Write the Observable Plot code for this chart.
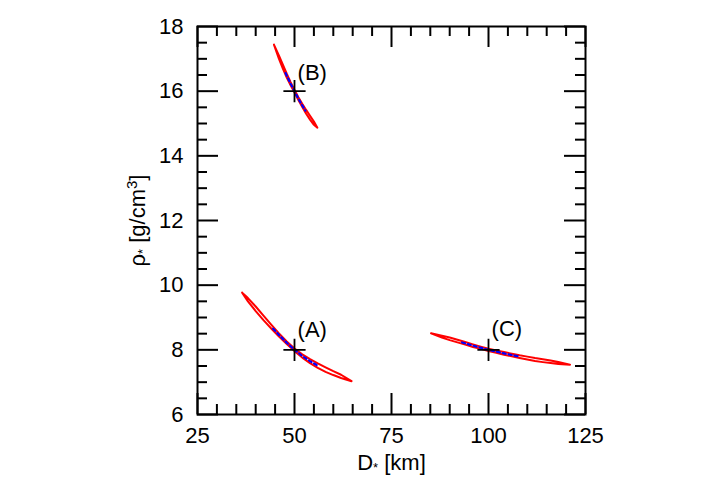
<!DOCTYPE html>
<html><head><meta charset="utf-8">
<script src="https://cdn.jsdelivr.net/npm/d3@7"></script>
<script src="https://cdn.jsdelivr.net/npm/@observablehq/plot@0.6"></script>
<style>body{margin:0;background:#fff}</style>
</head><body><div id="chart"></div>
<script>
// Tick values
const majorX = [25, 50, 75, 100, 125];
const minorX = [30, 35, 40, 45, 55, 60, 65, 70, 80, 85, 90, 95, 105, 110, 115, 120];
const majorY = [6, 8, 10, 12, 14, 16, 18];
const minorY = [6.5, 7, 7.5, 8.5, 9, 9.5, 10.5, 11, 11.5, 12.5, 13, 13.5, 14.5, 15, 15.5, 16.5, 17, 17.5];

// Case (A): red contour (upper / lower edges)
const aD  = [36.5, 38, 40, 42, 44, 46, 48, 50, 52, 54, 56, 58, 60, 62, 64.7];
const aUp = [9.77, 9.60, 9.34, 9.06, 8.78, 8.51, 8.26, 8.04, 7.86, 7.71, 7.58, 7.46, 7.34, 7.23, 7.03];
const aLo = [9.77, 9.50, 9.20, 8.92, 8.66, 8.41, 8.18, 7.96, 7.76, 7.59, 7.44, 7.32, 7.22, 7.13, 7.03];
// Case (A): blue dashed curve
const abD   = [44.5, 46, 48, 50, 52, 54, 56];
const abRho = [8.655, 8.46, 8.22, 8.0, 7.81, 7.65, 7.51];

// Case (B)
const bD  = [44.7, 46, 47, 48, 49, 50, 51, 52, 53, 54, 55, 55.9];
const bUp = [17.44, 17.10, 16.82, 16.54, 16.28, 16.04, 15.81, 15.61, 15.42, 15.24, 15.06, 14.87];
const bLo = [17.44, 17.00, 16.70, 16.42, 16.18, 15.96, 15.73, 15.51, 15.30, 15.12, 14.96, 14.87];
const bbD   = [47.7, 48, 49, 50, 51, 52, 52.8];
const bbRho = [16.56, 16.48, 16.23, 16.0, 15.77, 15.56, 15.40];

// Case (C)
const cD  = [85.2, 88, 90, 92, 94, 96, 98, 100, 102, 104, 106, 108, 110, 112, 114, 116, 118, 121];
const cUp = [8.51, 8.44, 8.38, 8.31, 8.24, 8.17, 8.10, 8.035, 7.98, 7.93, 7.88, 7.83, 7.79, 7.745, 7.71, 7.67, 7.625, 7.54];
const cLo = [8.51, 8.38, 8.30, 8.23, 8.16, 8.09, 8.03, 7.965, 7.91, 7.85, 7.80, 7.75, 7.70, 7.655, 7.62, 7.59, 7.565, 7.54];
const cbD   = [93.2, 94, 96, 98, 100, 102, 104, 106, 107.8];
const cbRho = [8.228, 8.20, 8.13, 8.065, 8.0, 7.945, 7.89, 7.84, 7.795];

// True values (crosses) and labels
const crossD   = [50, 50, 100];
const crossRho = [8, 16, 8];
const labelText = ["(A)", "(B)", "(C)"];
const labelD    = [50.8, 50.8, 100.8];
const labelRho  = [8.63, 16.55, 8.66];

function loop(id, D, up, lo) {
  const pts = D.map((d, i) => ({id, D: d, rho: up[i]}));
  for (let i = D.length - 1; i >= 0; i--) pts.push({id, D: D[i], rho: lo[i]});
  return pts;
}
function curve(id, D, r) { return D.map((d, i) => ({id, D: d, rho: r[i]})); }
const redLoops = [...loop("A", aD, aUp, aLo), ...loop("B", bD, bUp, bLo), ...loop("C", cD, cUp, cLo)];
const blueCurves = [...curve("A", abD, abRho), ...curve("B", bbD, bbRho), ...curve("C", cbD, cbRho)];
const crosses = crossD.map((d, i) => ({D: d, rho: crossRho[i]}));
const labels = labelText.map((t, i) => ({t, D: labelD[i], rho: labelRho[i]}));

const W = 708, H = 495, ML = 197, MR = 123, MT = 26, MB = 81;
const FW = W - ML - MR, FH = H - MT - MB;
const majLen = 21, minLen = 10;
const FS = 22;

const plot = Plot.plot({
  width: W, height: H,
  marginLeft: ML, marginRight: MR, marginTop: MT, marginBottom: MB,
  style: {fontFamily: "'Liberation Sans', Arial, sans-serif", fontSize: FS + "px", background: "white", color: "black"},
  x: {domain: [25, 125]},
  y: {domain: [6, 18]},
  marks: [
    Plot.line(redLoops, {x: "D", y: "rho", z: "id", stroke: "#ff0000", strokeWidth: 2}),
    Plot.line(blueCurves, {x: "D", y: "rho", z: "id", stroke: "#0000ff", strokeWidth: 2.2, strokeDasharray: "3,3"}),
    Plot.dot(crosses, {x: "D", y: "rho", symbol: "plus", r: 7.2, stroke: "black", strokeWidth: 1.8}),
    Plot.text(labels, {x: "D", y: "rho", text: "t", textAnchor: "start", fontSize: FS, fill: "black"}),
    // inward ticks
    Plot.ruleX(majorX, {insetTop: FH - majLen, stroke: "black", strokeWidth: 2}),
    Plot.ruleX(majorX, {insetBottom: FH - majLen, stroke: "black", strokeWidth: 2}),
    Plot.ruleX(minorX, {insetTop: FH - minLen, stroke: "black", strokeWidth: 2}),
    Plot.ruleX(minorX, {insetBottom: FH - minLen, stroke: "black", strokeWidth: 2}),
    Plot.ruleY(majorY, {insetRight: FW - majLen, stroke: "black", strokeWidth: 2}),
    Plot.ruleY(majorY, {insetLeft: FW - majLen, stroke: "black", strokeWidth: 2}),
    Plot.ruleY(minorY, {insetRight: FW - minLen, stroke: "black", strokeWidth: 2}),
    Plot.ruleY(minorY, {insetLeft: FW - minLen, stroke: "black", strokeWidth: 2}),
    Plot.frame({stroke: "black", strokeWidth: 2}),
    Plot.axisX({ticks: majorX, tickSize: 0, tickPadding: 13, fontSize: FS, label: "D* [km]", labelAnchor: "center", labelArrow: "none", labelOffset: 55}),
    Plot.axisY({ticks: majorY, tickSize: 0, tickPadding: 14, fontSize: FS, label: "ρ* [g/cm3]", labelAnchor: "center", labelArrow: "none", labelOffset: 68})
  ]
});

// Typeset subscript asterisk and superscript 3 in the axis labels
d3.select(plot).selectAll("text").each(function() {
  const s = this.textContent;
  const t = d3.select(this);
  if (s === "D* [km]") {
    t.text(null);
    t.append("tspan").text("D");
    t.append("tspan").attr("font-size", 13).attr("dy", 2).text("*");
    t.append("tspan").attr("dy", -2).text(" [km]");
  } else if (s === "ρ* [g/cm3]") {
    t.text(null);
    t.append("tspan").text("ρ");
    t.append("tspan").attr("font-size", 13).attr("dy", 2).text("*");
    t.append("tspan").attr("dy", -2).text(" [g/cm");
    t.append("tspan").attr("font-size", 15).attr("dy", -8).text("3");
    t.append("tspan").attr("dy", 8).text("]");
  }
});
document.getElementById("chart").appendChild(plot);
</script>
</body></html>
